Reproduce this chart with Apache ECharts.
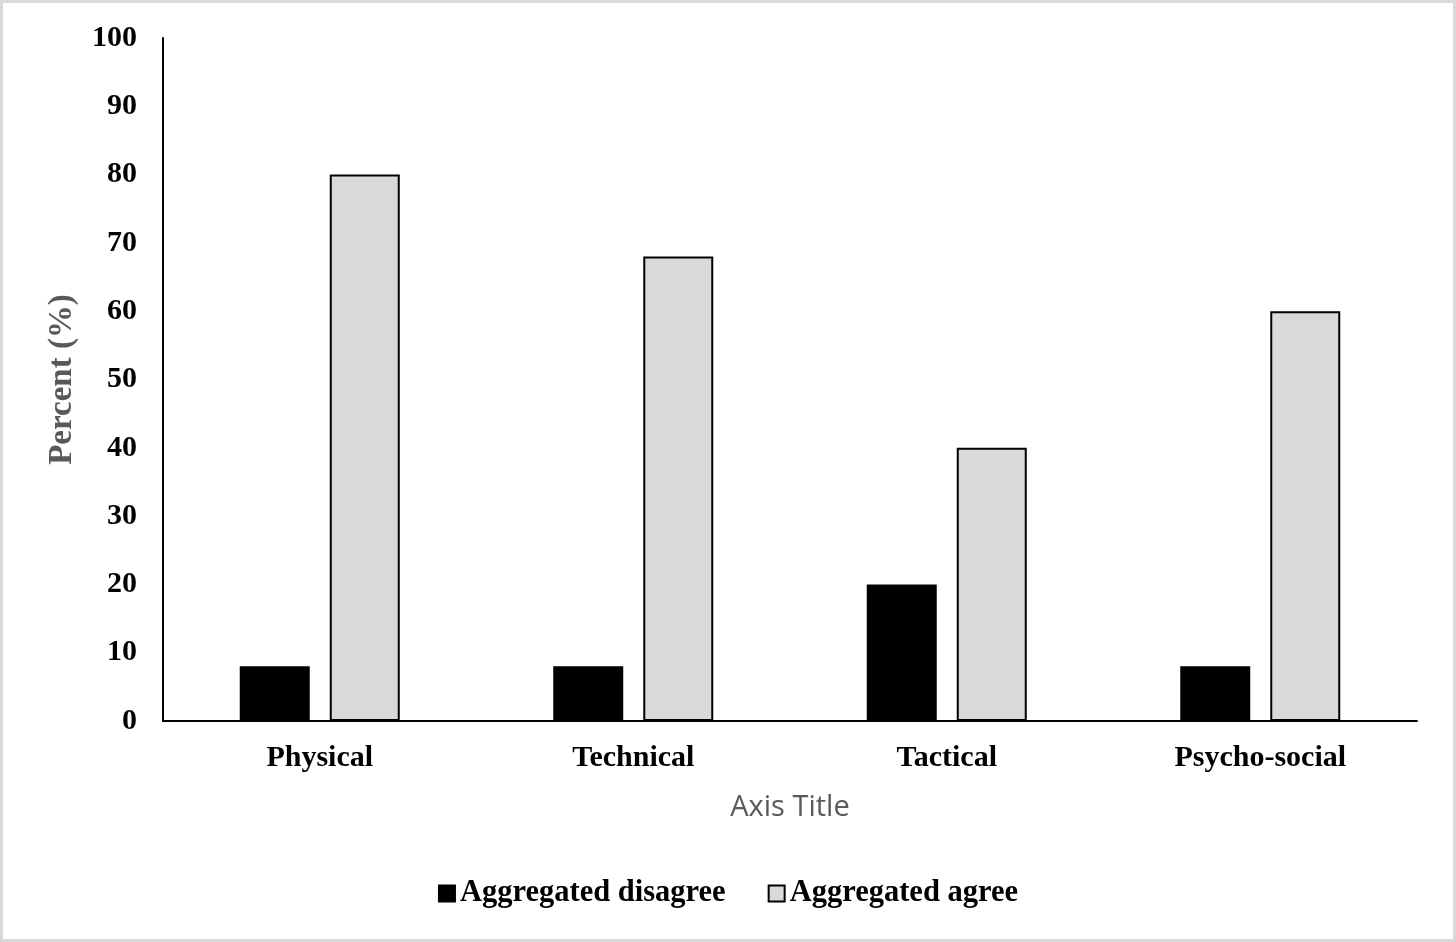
<!DOCTYPE html>
<html>
<head>
<meta charset="utf-8">
<script src="https://cdn.jsdelivr.net/npm/echarts@6/dist/echarts.min.js"></script>
<style>
  html, body { margin: 0; padding: 0; background: #fff; }
  #wrap { position: absolute; left: 0; top: 0; width: 1456px; height: 942px; box-sizing: border-box; border: 3px solid #d9d9d9; }
  #chart { position: absolute; left: 0; top: 0; width: 1456px; height: 942px; }
</style>
</head>
<body>
<div id="wrap"></div>
<div id="chart"></div>
<script>
const categories = ['Physical', 'Technical', 'Tactical', 'Psycho-social'];
const disagreeValues = [8, 8, 20, 8];
const agreeValues = [80, 68, 40, 60];
const seriesNames = ['Aggregated disagree', 'Aggregated agree'];

const chart = echarts.init(document.getElementById('chart'));
const serif = '"Liberation Serif", "Times New Roman", serif';
chart.setOption({
  backgroundColor: 'transparent',
  animation: false,
  grid: { left: 163, right: 39, top: 38, bottom: 221 },
  legend: {
    bottom: 28,
    left: 'center',
    itemWidth: 16,
    itemHeight: 16,
    itemGap: 42,
    icon: 'rect',
    textStyle: { fontFamily: serif, fontWeight: 'bold', fontSize: 30.5, color: '#000' },
    data: seriesNames
  },
  xAxis: {
    type: 'category',
    data: categories,
    name: 'Axis Title',
    nameLocation: 'middle',
    nameGap: 72,
    nameTextStyle: { fontFamily: '"Open Sans", "Liberation Sans", sans-serif', fontSize: 29, color: '#595959' },
    axisLine: { lineStyle: { color: '#000', width: 2 } },
    axisTick: { show: false },
    axisLabel: { fontFamily: serif, fontWeight: 'bold', fontSize: 30, color: '#000', margin: 22 }
  },
  yAxis: {
    type: 'value',
    min: 0, max: 100, interval: 10,
    name: 'Percent (%)',
    nameLocation: 'middle',
    nameGap: 84,
    nameRotate: 90,
    nameTextStyle: { fontFamily: serif, fontWeight: 'bold', fontSize: 33, color: '#595959' },
    axisLine: { show: true, lineStyle: { color: '#000', width: 2 } },
    axisTick: { show: false },
    splitLine: { show: false },
    axisLabel: { fontFamily: serif, fontWeight: 'bold', fontSize: 30, color: '#000', margin: 26 }
  },
  series: [
    {
      name: seriesNames[0], type: 'bar', data: disagreeValues,
      barWidth: 70, barGap: '28.6%',
      itemStyle: { color: '#000', borderColor: '#000', borderWidth: 2 }
    },
    {
      name: seriesNames[1], type: 'bar', data: agreeValues,
      barWidth: 70,
      itemStyle: { color: '#d9d9d9', borderColor: '#000', borderWidth: 2 }
    }
  ]
});
</script>
</body>
</html>
